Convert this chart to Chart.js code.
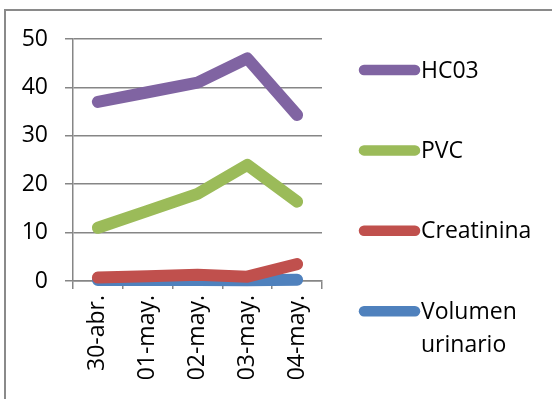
<!DOCTYPE html>
<html>
<head>
<meta charset="utf-8">
<script src="https://cdn.jsdelivr.net/npm/chart.js@4.4.1/dist/chart.umd.min.js"></script>
<style>
  html, body { margin: 0; padding: 0; background: #fff; }
  #wrap { width: 552px; height: 399px; position: relative; }
</style>
</head>
<body>
<div id="wrap"><canvas id="c" width="552" height="399"></canvas></div>
<script>
// Daily readings, 30 April to 4 May
const dates = ['30-abr.', '01-may.', '02-may.', '03-may.', '04-may.'];
const hc03 = [37, 39, 41, 46, 34.3];
const pvc = [11, 14.5, 18, 24, 16.4];
const creatinina = [0.7, 1.0, 1.3, 0.9, 3.5];
const volumenUrinario = [0.2, 0.2, 0.2, 0.15, 0.25];
const seriesNames = ['HC03', 'PVC', 'Creatinina', 'Volumen urinario'];
const seriesColors = ['#8064A2', '#9BBB59', '#C0504D', '#4F81BD'];
const yTicks = [0, 10, 20, 30, 40, 50];

const FONT = '"Open Sans", sans-serif';
const GRID = '#868686';

const seriesValues = [hc03, pvc, creatinina, volumenUrinario];
const datasets = seriesValues.map((vals, i) => ({
  label: seriesNames[i],
  data: vals,
  borderColor: seriesColors[i],
  backgroundColor: seriesColors[i],
  borderWidth: 12,
  borderCapStyle: 'round',
  borderJoinStyle: 'round',
  pointRadius: 0,
  tension: 0,
  clip: false
}));

// Outer frame of the chart box
const framePlugin = {
  id: 'frame',
  afterDraw(chart) {
    const ctx = chart.ctx;
    ctx.save();
    ctx.strokeStyle = '#8a8a8a';
    ctx.lineWidth = 2;
    ctx.beginPath();
    ctx.moveTo(5, 399);
    ctx.lineTo(5, 10);
    ctx.lineTo(552, 10);
    ctx.stroke();
    ctx.restore();
  }
};

// Legend on the right, one widely spaced entry per series
const sideLegend = {
  id: 'sideLegend',
  afterDraw(chart) {
    const ctx = chart.ctx;
    const textX = 421;
    const maxW = 552 - textX - 2;
    ctx.save();
    ctx.font = '23px ' + FONT;
    ctx.textBaseline = 'middle';
    ctx.textAlign = 'left';
    chart.data.datasets.forEach((ds, i) => {
      const y = 70 + 80.4 * i;
      ctx.strokeStyle = ds.borderColor;
      ctx.lineWidth = 10.5;
      ctx.lineCap = 'round';
      ctx.beginPath();
      ctx.moveTo(364, y);
      ctx.lineTo(415, y);
      ctx.stroke();
      // wrap label words into lines that fit
      const words = ds.label.split(' ');
      const lines = [];
      let cur = '';
      words.forEach(w => {
        const t = cur ? cur + ' ' + w : w;
        if (cur && ctx.measureText(t).width > maxW) { lines.push(cur); cur = w; }
        else cur = t;
      });
      lines.push(cur);
      ctx.fillStyle = '#000';
      lines.forEach((ln, k) => ctx.fillText(ln, textX, y + 1 + k * 33));
    });
    ctx.restore();
  }
};

new Chart(document.getElementById('c'), {
  type: 'line',
  data: { labels: dates, datasets },
  options: {
    responsive: false,
    animation: false,
    events: [],
    layout: { padding: { top: 39, right: 230, bottom: 0, left: 0 } },
    plugins: { legend: { display: false }, tooltip: { enabled: false } },
    scales: {
      x: {
        type: 'category',
        offset: true,
        afterFit: s => { s.height = 118; },
        grid: { display: true, drawOnChartArea: false, offset: true, tickLength: 8, color: GRID, lineWidth: 1.5 },
        border: { display: true, color: GRID, width: 1.5 },
        ticks: {
          minRotation: 90, maxRotation: 90, autoSkip: false, padding: 6,
          color: '#000', font: { family: FONT, size: 23 }
        }
      },
      y: {
        min: 0, max: 50,
        afterFit: s => { s.width = 73; },
        afterBuildTicks: s => { s.ticks = yTicks.map(v => ({ value: v })); },
        grid: { color: GRID, lineWidth: 1.5, tickLength: 8 },
        border: { display: true, color: GRID, width: 1.5 },
        ticks: { padding: 17, color: '#000', font: { family: FONT, size: 23 } }
      }
    }
  },
  plugins: [framePlugin, sideLegend]
});
</script>
</body>
</html>
